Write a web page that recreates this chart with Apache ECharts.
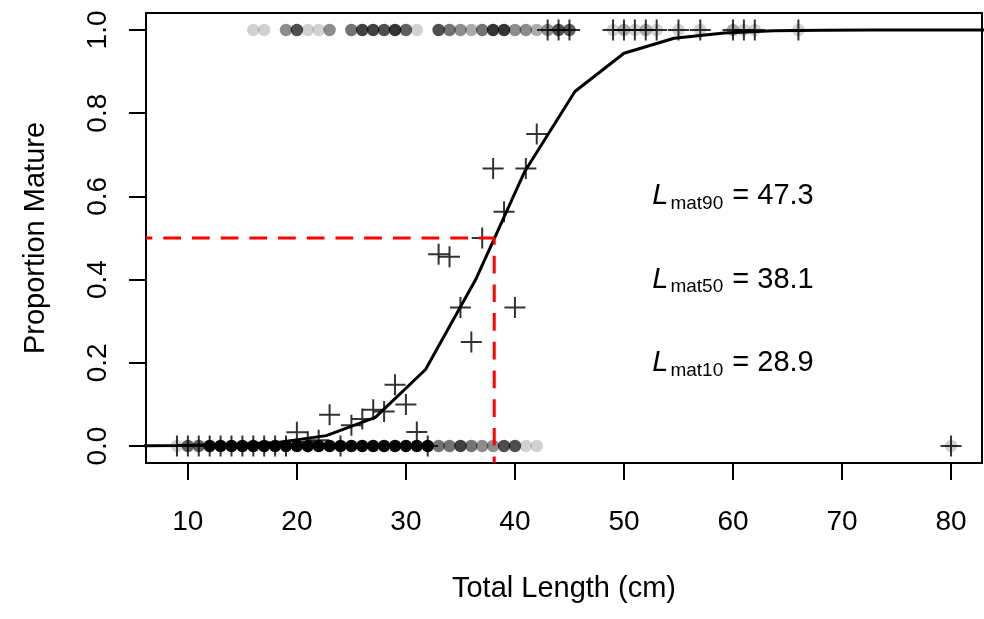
<!DOCTYPE html>
<html><head><meta charset="utf-8">
<script src="https://cdn.jsdelivr.net/npm/echarts@6/dist/echarts.min.js"></script>
<style>html,body{margin:0;padding:0;background:#fff}#c{width:984px;height:619px}</style>
</head><body><div id="c"></div>
<script>
// ---- data ----
const xTicks = [10, 20, 30, 40, 50, 60, 70, 80];
const yTicks = [0, 0.2, 0.4, 0.6, 0.8, 1.0];

// immature fish (plotted at 0): length and approximate number of overlapping points
const immLen   = [9, 10, 11, 12, 13, 14, 15, 16, 17, 18, 19, 20, 21, 22, 23, 24, 25, 26, 27, 28, 29, 30, 31, 32, 33, 34, 35, 36, 37, 38, 39, 40, 41, 42, 80];
const immCount = [1, 5, 5, 20, 20, 20, 20, 20, 20, 20, 20, 20, 20, 20, 20, 20, 20, 20, 20, 20, 20, 20, 20, 20, 4, 4, 7, 4, 3, 3, 6, 6, 1, 1, 1];

// mature fish (plotted at 1)
const matLen   = [16, 17, 19, 20, 21, 22, 23, 25, 26, 27, 28, 29, 30, 31, 33, 34, 35, 36, 37, 38, 39, 40, 41, 42, 43, 44, 45, 49, 50, 51, 52, 53, 55, 57, 60, 61, 62, 66];
const matCount = [1, 1, 3, 6, 1, 1, 3, 4, 7, 7, 6, 8, 5, 1, 6, 4, 3, 2, 4, 8, 8, 3, 3, 2, 3, 6, 5, 1, 2, 1, 2, 1, 1, 1, 2, 1, 1, 1];

// observed proportion mature per length
const propLen = [9, 10, 11, 12, 13, 14, 15, 16, 17, 18, 19, 20, 21, 22, 23, 24, 25, 26, 27, 28, 29, 30, 31, 32, 33, 34, 35, 36, 37, 38, 39, 40, 41, 42, 43, 44, 45, 49, 50, 51, 52, 53, 55, 57, 60, 61, 62, 66, 80];
const propVal = [0, 0, 0, 0, 0, 0, 0, 0, 0, 0, 0, 0.033, 0.01, 0.014, 0.075, 0, 0.05, 0.065, 0.087, 0.083, 0.147, 0.1, 0.034, 0, 0.461, 0.455, 0.333, 0.25, 0.5, 0.667, 0.563, 0.333, 0.667, 0.75, 1, 1, 1, 1, 1, 1, 1, 1, 1, 1, 1, 1, 1, 1, 0];

// fitted maturity curve (vertices)
const curveLen = [4.4, 9.0, 13.6, 18.1, 22.7, 27.2, 31.8, 36.4, 40.9, 45.5, 50.0, 54.6, 59.2, 63.7, 68.3, 72.8, 77.4, 82.0, 86.5];
const curveP   = [0.0003, 0.001, 0.003, 0.008, 0.025, 0.069, 0.184, 0.40, 0.66, 0.852, 0.944, 0.980, 0.993, 0.998, 0.9993, 0.9998, 0.9999, 1.0, 1.0];

// L_mat annotations
const lmatNames  = ['mat90', 'mat50', 'mat10'];
const lmatValues = ['47.3', '38.1', '28.9'];
const lmatLevels = [0.6, 0.4, 0.2];

const lmat50 = 38.1;
const halfP = 0.5;

// ---- chart ----
const X_MIN = 6.16, X_MAX = 82.84, Y_MIN = -0.0408, Y_MAX = 1.0408;
const ALPHA = 0.18;
const FONT = 'Liberation Sans, Arial, sans-serif';
const opacityFor = n => 1 - Math.pow(1 - ALPHA, n);

const chart = echarts.init(document.getElementById('c'), null, {renderer: 'canvas'});

const circleData = immLen.map((x, i) => ({value: [x, 0], itemStyle: {opacity: opacityFor(immCount[i])}}))
  .concat(matLen.map((x, i) => ({value: [x, 1], itemStyle: {opacity: opacityFor(matCount[i])}})));

const crossPath = 'path://M10,0L10,20M0,10L20,10';

const option = {
  animation: false,
  backgroundColor: '#fff',
  grid: {left: 146, right: 2, top: 13, bottom: 156, show: true, borderColor: '#000', borderWidth: 2, backgroundColor: 'transparent', containLabel: false},
  xAxis: {
    type: 'value', min: X_MIN, max: X_MAX,
    axisLine: {show: false, onZero: false}, splitLine: {show: false},
    axisTick: {show: true, length: 17, customValues: xTicks, lineStyle: {color: '#000', width: 2}},
    axisLabel: {customValues: xTicks, margin: 45, fontSize: 28, color: '#000', fontFamily: FONT},
    name: 'Total Length (cm)', nameLocation: 'middle', nameGap: 111,
    nameTextStyle: {fontSize: 29, color: '#000', fontFamily: FONT}
  },
  yAxis: {
    type: 'value', min: Y_MIN, max: Y_MAX,
    axisLine: {show: false, onZero: false}, splitLine: {show: false},
    axisTick: {show: true, length: 17, customValues: yTicks, lineStyle: {color: '#000', width: 2}},
    axisLabel: {customValues: yTicks, rotate: 90, margin: 34, fontSize: 28, color: '#000', fontFamily: FONT,
      formatter: v => v.toFixed(1)},
    name: 'Proportion Mature', nameLocation: 'middle', nameGap: 96,
    nameTextStyle: {fontSize: 29, color: '#000', fontFamily: FONT}
  },
  series: [
    {
      type: 'scatter', silent: true, z: 2,
      symbol: 'circle', symbolSize: 12.5,
      itemStyle: {color: '#000'},
      data: circleData
    },
    {
      type: 'scatter', silent: true, z: 3,
      symbol: crossPath, symbolSize: 21,
      itemStyle: {color: 'transparent', borderColor: '#000', borderWidth: 2},
      data: propLen.map((x, i) => [x, propVal[i]])
    },
    {
      type: 'line', silent: true, z: 4, symbol: 'none', clip: true,
      lineStyle: {color: '#000', width: 3},
      data: curveLen.map((x, i) => [x, curveP[i]])
    },
    {
      type: 'line', silent: true, z: 5, symbol: 'none', clip: true,
      lineStyle: {color: '#ff0000', width: 3, type: [17.7, 11], dashOffset: 11.4, cap: 'butt'},
      data: [[X_MIN, halfP], [lmat50, halfP]]
    },
    {
      type: 'line', silent: true, z: 5, symbol: 'none', clip: true,
      lineStyle: {color: '#ff0000', width: 3, type: [17.7, 11], dashOffset: 11, cap: 'butt'},
      data: [[lmat50, halfP], [lmat50, Y_MIN]]
    }
  ]
};
chart.setOption(option);

// annotations placed at data coordinates through the chart's own scales
const ANNOT_X = 60;
const mainSize = 29, subSize = 19, subDrop = 7.5;
const measureCtx = document.createElement('canvas').getContext('2d');
function textWidth(str, size, style) {
  measureCtx.font = (style || 'normal') + ' ' + size + 'px ' + FONT;
  return measureCtx.measureText(str).width;
}
const elements = [];
lmatLevels.forEach((y, i) => {
  const [cx, cy] = chart.convertToPixel({gridIndex: 0}, [ANNOT_X, y]);
  const partL = 'L', partS = lmatNames[i], partN = ' = ' + lmatValues[i];
  const w1 = textWidth(partL, mainSize, 'italic') + 2;
  const w2 = textWidth(partS, subSize) + 1;
  const w3 = textWidth(partN, mainSize);
  let x = cx - (w1 + w2 + w3) / 2;
  elements.push({type: 'text', z: 100, x: x, y: cy, silent: true,
    style: {text: partL, font: 'italic ' + mainSize + 'px ' + FONT, fill: '#000', align: 'left', verticalAlign: 'middle'}});
  x += w1;
  elements.push({type: 'text', z: 100, x: x, y: cy + subDrop, silent: true,
    style: {text: partS, font: subSize + 'px ' + FONT, fill: '#000', align: 'left', verticalAlign: 'middle'}});
  x += w2;
  elements.push({type: 'text', z: 100, x: x, y: cy, silent: true,
    style: {text: partN, font: mainSize + 'px ' + FONT, fill: '#000', align: 'left', verticalAlign: 'middle'}});
});
chart.setOption({graphic: elements});
</script>
</body></html>
